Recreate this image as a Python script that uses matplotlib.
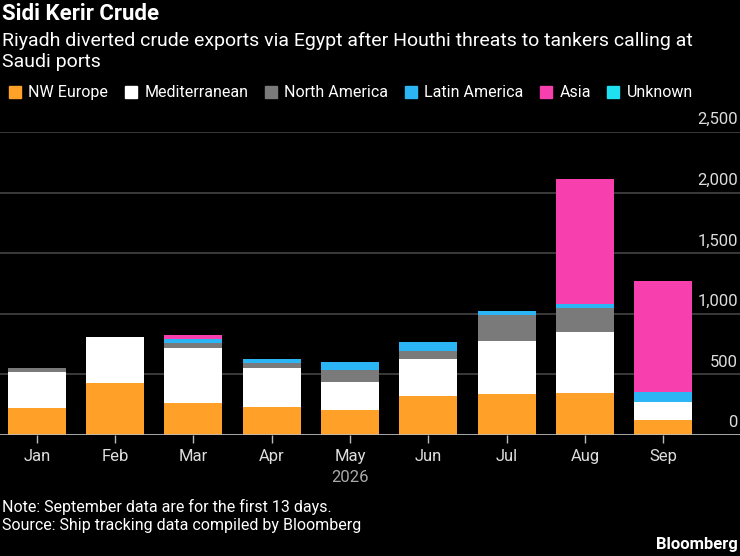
import matplotlib.pyplot as plt
from matplotlib.lines import Line2D
import numpy as np

plt.rcParams['font.family'] = ['Roboto', 'DejaVu Sans']

months = ["Jan", "Feb", "Mar", "Apr", "May", "Jun", "Jul", "Aug", "Sep"]
series = ["NW Europe", "Mediterranean", "North America", "Latin America", "Asia", "Unknown"]
nw_europe = [220, 432, 261, 234, 209, 322, 341, 344, 124]
mediterranean = [302, 374, 459, 321, 231, 305, 434, 506, 151]
north_america = [33, 0, 36, 36, 96, 66, 218, 198, 0]
latin_america = [0, 0, 33, 33, 64, 72, 30, 30, 77]
asia = [0, 0, 33, 0, 0, 0, 0, 1031, 921]
unknown = [0, 0, 0, 0, 0, 0, 0, 0, 0]
yticks = [0, 500, 1000, 1500, 2000, 2500]

colors = ["#ffa028", "#ffffff", "#7a7a7a", "#2bb5f5", "#f73fad", "#1fe0f0"]
data = [nw_europe, mediterranean, north_america, latin_america, asia, unknown]

fig = plt.figure(figsize=(7.4, 5.56), dpi=100, facecolor="black")
ax = fig.add_axes([0, 0.2176, 1, 0.545], facecolor="black")

x = np.arange(len(months))
bottom = np.zeros(len(months))
for vals, col in zip(data, colors):
    ax.bar(x, vals, 0.74, bottom=bottom, color=col, linewidth=0, zorder=3)
    bottom += np.array(vals)

ax.set_xlim(-0.47, 8.98)
ax.set_ylim(0, 2500)
for s in ax.spines.values():
    s.set_visible(False)
ax.set_yticks(yticks)
ax.yaxis.grid(True, color="#444444", linewidth=1.2, zorder=0)
ax.tick_params(axis="y", length=0, labelleft=False)
for v in yticks:
    ax.text(0.997, v + 40, f"{v:,}", transform=ax.get_yaxis_transform(),
            ha="right", va="bottom", color="#dddddd", fontsize=12, clip_on=False)
ax.axhline(0, color="#bbbbbb", linewidth=1.2, zorder=4)

ax.set_xticks(x)
ax.set_xticklabels(months)
ax.tick_params(axis="x", colors="#bbbbbb", length=6, width=1, labelcolor="#dddddd",
               labelsize=12, pad=4)
ax.text(4, -0.115, "2026", transform=ax.get_xaxis_transform(), ha="center", va="top",
        color="#aaaaaa", fontsize=12)

fig.text(0.003, 0.975, "Sidi Kerir Crude", color="white", fontsize=16, fontweight="bold",
         va="center", ha="left")
fig.text(0.003, 0.942, "Riyadh diverted crude exports via Egypt after Houthi threats to tankers calling at\nSaudi ports",
         color="white", fontsize=14, va="top", ha="left", linespacing=1.22)

handles = [Line2D([], [], marker="s", linestyle="", markersize=8.5, color=c) for c in colors]
fig.legend(handles, series, loc="center left", bbox_to_anchor=(-0.008, 0.833), ncol=6,
           frameon=False, handlelength=0.8, handletextpad=0.45, columnspacing=1.0,
           fontsize=11.5, labelcolor="white")

fig.text(0.003, 0.088, "Note: September data are for the first 13 days.", color="white",
         fontsize=11.5, va="center")
fig.text(0.003, 0.055, "Source: Ship tracking data compiled by Bloomberg", color="white",
         fontsize=11.5, va="center")
fig.text(0.997, 0.02, "Bloomberg", color="white", fontsize=12, fontweight="bold",
         ha="right", va="center")

fig.savefig("out.png", dpi=100, facecolor="black")
